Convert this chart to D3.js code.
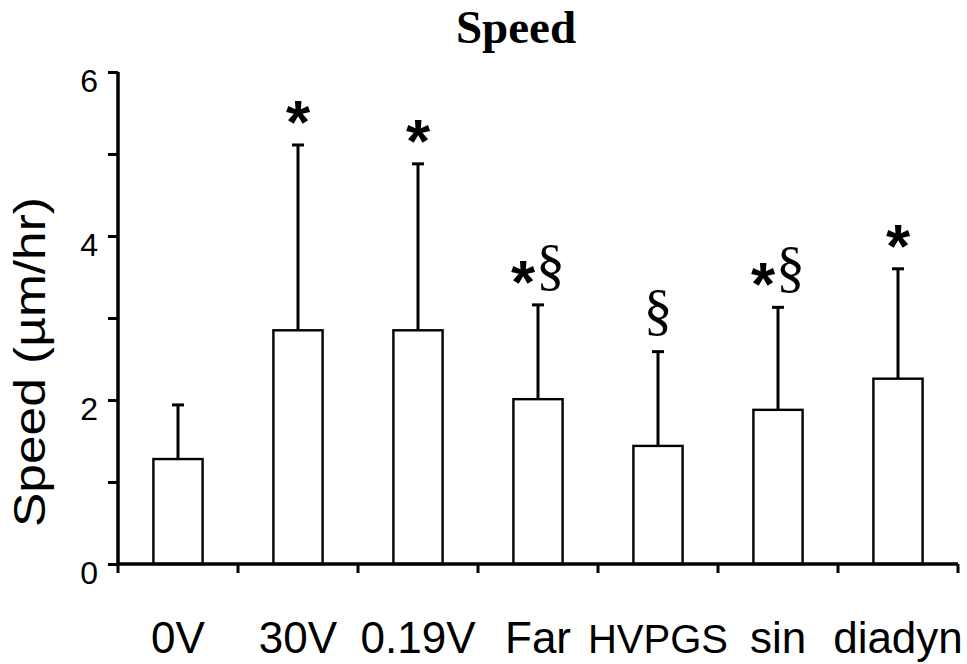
<!DOCTYPE html>
<html>
<head>
<meta charset="utf-8">
<script src="https://cdn.jsdelivr.net/npm/d3@7"></script>
<style>
  html, body { margin: 0; padding: 0; background: #fff; }
  svg { display: block; }
</style>
</head>
<body>
<svg id="chart" width="967" height="664"></svg>
<script>
// Migration speed per stimulation condition (mean + SD)
const categories = ["0V", "30V", "0.19V", "Far", "HVPGS", "sin", "diadyn"];
const means      = [1.28, 2.85, 2.85, 2.01, 1.44, 1.88, 2.26];
const sds        = [0.66, 2.26, 2.03, 1.15, 1.15, 1.25, 1.34];
// significance marks: * and § per condition
const stars      = [false, true, true, true, false, true, true];
const sections   = [false, false, false, true, true, true, false];
const yTicks     = [0, 1, 2, 3, 4, 5, 6];
const yTickLabels = ["0", "", "2", "", "4", "", "6"];

const svg = d3.select("#chart");
const plotLeft = 118, plotRight = 958, plotTop = 72, plotBottom = 564;
const sans = "'Liberation Sans', Arial, Helvetica, sans-serif";
const serif = "'Liberation Serif', 'Times New Roman', serif";

const x = d3.scaleBand()
  .domain(categories)
  .range([plotLeft, plotRight])
  .paddingInner(0.59)
  .paddingOuter(0.295);

const y = d3.scaleLinear().domain([0, 6]).range([plotBottom, plotTop]);

const step = x.step();
const bandStart = i => x(categories[i]) - x.paddingOuter() * step;

// title
svg.append("text")
  .attr("x", 516).attr("y", 43)
  .attr("text-anchor", "middle")
  .style("font-family", serif)
  .style("font-weight", "bold")
  .style("font-size", "47px")
  .text("Speed");

// y axis title
svg.append("text")
  .attr("transform", `translate(45, ${(527 + 197) / 2}) rotate(-90)`)
  .attr("text-anchor", "middle")
  .style("font-family", sans)
  .style("font-size", "44px")
  .attr("textLength", 330)
  .attr("lengthAdjust", "spacingAndGlyphs")
  .text("Speed (µm/hr)");

// bars
const rows = categories.map((c, i) => ({ c, m: means[i], sd: sds[i], star: stars[i], sec: sections[i] }));

svg.append("g").selectAll("rect")
  .data(rows)
  .join("rect")
  .attr("x", d => x(d.c))
  .attr("y", d => y(d.m))
  .attr("width", x.bandwidth())
  .attr("height", d => y(0) - y(d.m))
  .attr("fill", "#fff")
  .attr("stroke", "#000")
  .attr("stroke-width", 2.4);

// error bars (upper only)
const eb = svg.append("g").attr("stroke", "#000").attr("stroke-width", 3);
rows.forEach(d => {
  const cx = x(d.c) + x.bandwidth() / 2;
  eb.append("line")
    .attr("x1", cx).attr("x2", cx)
    .attr("y1", y(d.m)).attr("y2", y(d.m + d.sd));
  eb.append("line")
    .attr("x1", cx - 6).attr("x2", cx + 6)
    .attr("y1", y(d.m + d.sd)).attr("y2", y(d.m + d.sd));
});

// y axis
const yAxis = svg.append("g")
  .attr("transform", `translate(${plotLeft},0)`)
  .call(d3.axisLeft(y).tickValues(yTicks).tickSize(10).tickPadding(10)
    .tickFormat((d, i) => yTickLabels[i]));
yAxis.attr("font-size", null).attr("font-family", null);
yAxis.select(".domain").attr("stroke-width", 3.5).attr("d", `M0,${plotTop}V${plotBottom}`);
yAxis.selectAll(".tick line").attr("stroke-width", 3);
yAxis.selectAll(".tick text")
  .style("font-family", sans)
  .style("font-size", "32px")
  .attr("dy", "0.6em")
  .attr("fill", "#000");

// x axis line with ticks at band boundaries
const xa = svg.append("g").attr("stroke", "#000");
xa.append("line")
  .attr("x1", plotLeft).attr("x2", plotRight)
  .attr("y1", plotBottom).attr("y2", plotBottom)
  .attr("stroke-width", 3.5);
d3.range(categories.length + 1).forEach(i => {
  const tx = i < categories.length ? bandStart(i) : plotRight;
  xa.append("line")
    .attr("x1", tx).attr("x2", tx)
    .attr("y1", plotBottom).attr("y2", plotBottom + 9)
    .attr("stroke-width", 3);
});

// category labels
svg.append("g").selectAll("text")
  .data(categories)
  .join("text")
  .attr("x", d => x(d) + x.bandwidth() / 2)
  .attr("y", 653)
  .attr("text-anchor", "middle")
  .style("font-family", sans)
  .style("font-size", d => d === "HVPGS" ? "40px" : "44px")
  .text(d => d);

// significance marks above error bars
const marks = svg.append("g");
rows.forEach(d => {
  if (!d.star && !d.sec) return;
  const cx = x(d.c) + x.bandwidth() / 2;
  const cy = y(d.m + d.sd) - 36;
  const t = marks.append("text")
    .attr("x", cx)
    .attr("y", cy)
    .attr("text-anchor", "middle");
  if (d.star) {
    t.append("tspan")
      .style("font-family", sans)
      .style("font-weight", "bold")
      .style("font-size", "62px")
      .attr("dy", 34)
      .text("*");
  }
  if (d.sec) {
    t.append("tspan")
      .style("font-family", serif)
      .style("font-size", "58px")
      .attr("dy", d.star ? -19 : 13)
      .attr("dx", d.star ? 1 : 0)
      .text("§");
  }
});
</script>
</body>
</html>
